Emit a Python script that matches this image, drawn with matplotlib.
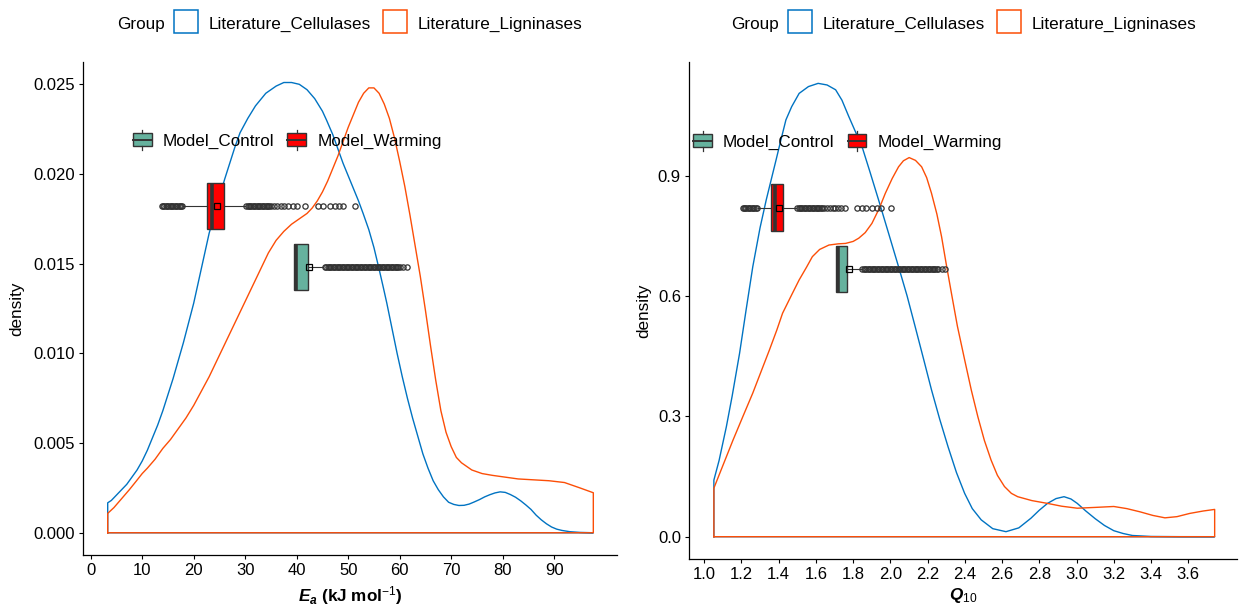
import numpy as np
import matplotlib
matplotlib.use("Agg")
import matplotlib.pyplot as plt
from matplotlib.patches import Rectangle
from matplotlib.lines import Line2D
from matplotlib.legend_handler import HandlerBase

plt.rcParams['font.family'] = ['Liberation Sans', 'DejaVu Sans']
plt.rcParams['mathtext.fontset'] = 'custom'
plt.rcParams['mathtext.rm'] = 'Liberation Sans'
plt.rcParams['mathtext.it'] = 'Liberation Sans:italic'
plt.rcParams['mathtext.bf'] = 'Liberation Sans:bold'
try:
    plt.rcParams['mathtext.bfit'] = 'Liberation Sans:bold:italic'
except KeyError:
    pass

# ---------------- data ----------------
group_labels = ["Literature_Cellulases", "Literature_Ligninases"]
model_labels = ["Model_Control", "Model_Warming"]

# Ea density curves
ea_cell_x = [3.3, 4, 5, 6, 7, 8, 9, 10, 11, 12, 13, 14, 15, 16, 17, 18, 19, 20, 21, 22, 23, 24, 25, 26,
             27, 28, 29, 30.5, 32, 34, 36, 37.5, 39, 40.5, 42, 43.5, 45, 45.8, 47, 48, 49, 50, 51, 52,
             52.9, 54, 55, 56, 56.8, 57.5, 58.5, 59.5, 60.5, 61.5, 62.5, 63.5, 64.5, 65.5, 66.5, 67.5,
             68.5, 69.5, 70.5, 71.5, 72.5, 73.5, 74.5, 75.5, 76.5, 77.5, 78.5, 79.5, 80.5, 81.5, 82.5,
             83.5, 84.5, 85.5, 86.5, 87.5, 88.5, 89.5, 90.5, 91.5, 93, 95, 97.6]
ea_cell_y = [0.00167, 0.0018, 0.0021, 0.0024, 0.0027, 0.0031, 0.0035, 0.0040, 0.0046, 0.0053, 0.0060,
             0.0068, 0.0077, 0.0086, 0.0096, 0.0106, 0.0117, 0.0128, 0.0141, 0.0154, 0.0167, 0.0177,
             0.0187, 0.0197, 0.0206, 0.0215, 0.0223, 0.0231, 0.0238, 0.0245, 0.0249, 0.0251, 0.0251,
             0.0250, 0.0247, 0.0242, 0.0235, 0.0230, 0.0222, 0.0214, 0.0206, 0.0199, 0.0192, 0.0185,
             0.0178, 0.0169, 0.0159, 0.0147, 0.0137, 0.0128, 0.0114, 0.0100, 0.0087, 0.0075, 0.0064,
             0.0054, 0.0044, 0.0036, 0.0029, 0.0024, 0.0020, 0.0017, 0.00158, 0.00152, 0.00153, 0.0016,
             0.00172, 0.00185, 0.0020, 0.00212, 0.00222, 0.00228, 0.00225, 0.00213, 0.00198, 0.00178,
             0.00155, 0.0013, 0.00098, 0.00072, 0.0005, 0.00032, 0.0002, 0.00013, 0.00006, 0.00002, 0.0]
ea_lig_x = [3.3, 4.5, 6, 7.5, 8.9, 10, 11, 12.5, 14, 15.5, 17, 18.5, 20, 21.5, 23, 24.5, 26, 27.5, 29,
            30.5, 31.5, 33, 34.5, 36, 37.5, 39, 40.5, 42, 43, 44, 45, 46, 47, 48, 49, 50, 51, 52, 53, 54,
            55, 56, 57, 58, 59, 60, 61, 62, 63, 64, 65, 66, 67, 68, 69, 70, 71, 72, 73, 74, 76, 78, 80,
            83, 86, 89, 92, 95, 97.6]
ea_lig_y = [0.00108, 0.0014, 0.0019, 0.0024, 0.0029, 0.0033, 0.0036, 0.0041, 0.0047, 0.0052, 0.0058,
            0.0064, 0.0071, 0.0079, 0.0087, 0.0096, 0.0105, 0.0114, 0.0123, 0.0132, 0.0138, 0.0147,
            0.0156, 0.0163, 0.0168, 0.0172, 0.0175, 0.0178, 0.0181, 0.0185, 0.0190, 0.0196, 0.0203,
            0.0210, 0.0218, 0.0226, 0.0233, 0.0240, 0.0245, 0.0248, 0.0248, 0.0245, 0.0239, 0.0231,
            0.0220, 0.0207, 0.0193, 0.0177, 0.0160, 0.0143, 0.0124, 0.0104, 0.0085, 0.0068, 0.0056,
            0.0048, 0.0042, 0.0039, 0.0037, 0.0035, 0.0033, 0.0032, 0.00312, 0.0030, 0.00295, 0.0029,
            0.0028, 0.0025, 0.00223]

# Q10 density curves
q10_cell_x = [1.052, 1.08, 1.119, 1.15, 1.19, 1.225, 1.261, 1.30, 1.333, 1.36, 1.386, 1.41, 1.439, 1.47,
              1.510, 1.56, 1.612, 1.66, 1.706, 1.74, 1.777, 1.81, 1.848, 1.89, 1.937, 1.99, 2.044, 2.09,
              2.133, 2.18, 2.221, 2.265, 2.310, 2.355, 2.399, 2.44, 2.488, 2.55, 2.621, 2.69, 2.755, 2.80,
              2.844, 2.89, 2.933, 2.97, 3.004, 3.05, 3.1, 3.15, 3.2, 3.25, 3.3, 3.4, 3.55, 3.742]
q10_cell_y = [0.141, 0.19, 0.274, 0.35, 0.457, 0.565, 0.673, 0.77, 0.839, 0.89, 0.939, 0.985, 1.039,
              1.072, 1.105, 1.122, 1.130, 1.126, 1.114, 1.088, 1.047, 1.012, 0.972, 0.91, 0.839, 0.757,
              0.673, 0.600, 0.524, 0.44, 0.366, 0.293, 0.224, 0.16, 0.108, 0.07, 0.042, 0.020, 0.0125,
              0.022, 0.046, 0.066, 0.083, 0.095, 0.0997, 0.094, 0.083, 0.064, 0.045, 0.028, 0.015, 0.008,
              0.003, 0.0006, 0.0001, 0.0]
q10_lig_x = [1.052, 1.10, 1.155, 1.21, 1.261, 1.31, 1.350, 1.39, 1.421, 1.47, 1.510, 1.55, 1.581, 1.62,
             1.670, 1.72, 1.759, 1.80, 1.830, 1.865, 1.901, 1.94, 1.973, 2.01, 2.044, 2.07, 2.101, 2.135,
             2.168, 2.195, 2.221, 2.25, 2.275, 2.30, 2.328, 2.36, 2.399, 2.435, 2.470, 2.505, 2.541,
             2.575, 2.613, 2.65, 2.684, 2.76, 2.844, 2.92, 3.004, 3.1, 3.2, 3.27, 3.341, 3.41, 3.475,
             3.54, 3.608, 3.68, 3.742]
q10_lig_y = [0.121, 0.177, 0.241, 0.302, 0.358, 0.417, 0.465, 0.515, 0.557, 0.603, 0.640, 0.672, 0.698,
             0.716, 0.727, 0.730, 0.731, 0.736, 0.744, 0.758, 0.781, 0.818, 0.856, 0.893, 0.922, 0.937,
             0.945, 0.938, 0.922, 0.895, 0.856, 0.804, 0.748, 0.68, 0.607, 0.525, 0.441, 0.365, 0.299,
             0.24, 0.191, 0.153, 0.125, 0.108, 0.0997, 0.090, 0.083, 0.076, 0.071, 0.073, 0.0753, 0.070,
             0.062, 0.053, 0.047, 0.050, 0.058, 0.064, 0.068]

# Boxplots: whislo, q1, median, q3, whishi ; mean ; outliers
ea_ctrl_box = [39.5, 39.5, 39.8, 42.1, 45.2]
ea_ctrl_mean = 42.3
ea_ctrl_fliers = [45.5, 45.75, 46, 46.25, 46.5, 46.75, 47, 47.25, 47.5, 47.75, 48, 48.25, 48.5, 48.75,
                  49, 49.25, 49.5, 49.75, 50, 50.25, 50.5, 50.75, 51, 51.25, 51.5, 51.75, 52, 52.25,
                  52.5, 52.75, 53, 53.25, 53.5, 53.75, 54, 54.25, 54.5, 54.75, 55, 55.25, 55.5, 55.75,
                  56, 56.25, 56.5, 56.75, 57, 57.25, 57.5, 57.75, 58, 58.25, 58.5, 58.75, 59, 59.25,
                  59.5, 59.75, 60.1, 60.7, 61.5]
ea_warm_box = [18.0, 22.6, 23.5, 25.9, 30.0]
ea_warm_mean = 24.6
ea_warm_fliers = [13.8, 14.05, 14.3, 14.55, 14.8, 15.05, 15.3, 15.55, 15.8, 16.05, 16.3, 16.55, 16.8,
                  17.05, 17.3, 17.55, 17.75,
                  30.2, 30.45, 30.7, 30.95, 31.2, 31.45, 31.7, 31.95, 32.2, 32.45, 32.7, 32.95, 33.2,
                  33.45, 33.7, 33.95, 34.2, 34.45, 34.7, 34.95, 35.6, 36.2, 36.9, 37.6, 38.4, 39.2,
                  40.0, 41.6, 44.2, 45.2, 46.5, 47.5, 48.3, 49.0, 51.3]

q10_ctrl_box = [1.709, 1.709, 1.718, 1.768, 1.848]
q10_ctrl_mean = 1.777
q10_ctrl_fliers = [1.850, 1.857, 1.864, 1.871, 1.878, 1.885, 1.892, 1.899, 1.906, 1.913, 1.920, 1.927,
                   1.934, 1.941, 1.948, 1.955, 1.962, 1.969, 1.976, 1.983, 1.990, 1.997, 2.004, 2.011,
                   2.018, 2.025, 2.032, 2.039, 2.046, 2.053, 2.060, 2.067, 2.074, 2.081, 2.088, 2.095,
                   2.102, 2.109, 2.116, 2.123, 2.130, 2.137, 2.144, 2.151, 2.158, 2.165, 2.172, 2.179,
                   2.186, 2.193, 2.200, 2.207, 2.214, 2.221, 2.228, 2.235, 2.242, 2.249, 2.256,
                   2.275, 2.293]
q10_warm_box = [1.29, 1.359, 1.381, 1.421, 1.493]
q10_warm_mean = 1.400
q10_warm_fliers = [1.206, 1.213, 1.220, 1.227, 1.234, 1.241, 1.248, 1.255, 1.262, 1.269, 1.276, 1.283,
                   1.500, 1.507, 1.514, 1.521, 1.528, 1.535, 1.542, 1.549, 1.556, 1.563, 1.570, 1.577,
                   1.584, 1.591, 1.598, 1.605, 1.612, 1.619, 1.626, 1.633,
                   1.645, 1.66, 1.675, 1.69, 1.705, 1.72, 1.733, 1.754,
                   1.82, 1.85, 1.87, 1.90, 1.93, 1.95, 2.003]

ea_ticks_x = [0, 10, 20, 30, 40, 50, 60, 70, 80, 90]
ea_ticks_y = [0.000, 0.005, 0.010, 0.015, 0.020, 0.025]
q10_ticks_x = [1.0, 1.2, 1.4, 1.6, 1.8, 2.0, 2.2, 2.4, 2.6, 2.8, 3.0, 3.2, 3.4, 3.6]
q10_ticks_y = [0.0, 0.3, 0.6, 0.9]

# ---------------- style ----------------
C_BLUE = '#0073C2'
C_ORANGE = '#FC4E07'
C_CTRL = '#66B29E'
C_WARM = '#FF0000'
C_DARK = '#333333'
FS = 12.3

W, H = 1239, 608
fig = plt.figure(figsize=(W / 100, H / 100), dpi=100)


def px_ax(l, r, t, b):
    return [l / W, 1 - b / H, (r - l) / W, (b - t) / H]


ax1 = fig.add_axes(px_ax(83.3, 617, 61.7, 555))
ax2 = fig.add_axes(px_ax(689.3, 1237, 61.7, 559))


class BoxKey(HandlerBase):
    def create_artists(self, legend, orig_handle, xdescent, ydescent, width, height, fontsize, trans):
        fc = orig_handle.get_facecolor()
        x0, y0 = -xdescent, -ydescent
        stub = 0.3 * height
        rect = Rectangle((x0, y0), width, height, facecolor=fc, edgecolor=C_DARK, lw=1.0, transform=trans)
        med = Line2D([x0, x0 + width], [y0 + height / 2] * 2, color=C_DARK, lw=1.4, transform=trans)
        w1 = Line2D([x0 + width / 2] * 2, [y0 + height, y0 + height + stub], color=C_DARK, lw=0.9, transform=trans)
        w2 = Line2D([x0 + width / 2] * 2, [y0 - stub, y0], color=C_DARK, lw=0.9, transform=trans)
        return [rect, med, w1, w2]


def density(ax, xs, ys, color):
    px = [xs[0]] + list(xs) + [xs[-1], xs[0]]
    py = [0] + list(ys) + [0, 0]
    ax.plot(px, py, color=color, lw=1.0, solid_joinstyle='round', zorder=2)


def box(ax, vals, mean, fliers, pos, height, fc):
    stats = [dict(whislo=vals[0], q1=vals[1], med=vals[2], q3=vals[3], whishi=vals[4],
                  mean=mean, fliers=fliers)]
    kw = dict(positions=[pos], widths=[height], patch_artist=True, showmeans=True, showcaps=False,
              manage_ticks=False, zorder=3,
              boxprops=dict(facecolor=fc, edgecolor=C_DARK, linewidth=1.0),
              medianprops=dict(color=C_DARK, linewidth=2.6, solid_capstyle='butt'),
              whiskerprops=dict(color=C_DARK, linewidth=0.8),
              flierprops=dict(marker='o', markerfacecolor='none', markeredgecolor=C_DARK,
                              markersize=3.8, markeredgewidth=0.9),
              meanprops=dict(marker='s', markerfacecolor='none', markeredgecolor='black',
                             markersize=4.5, markeredgewidth=0.9))
    try:
        ax.bxp(stats, orientation='horizontal', **kw)
    except TypeError:
        ax.bxp(stats, vert=False, **kw)


def style_axes(ax):
    for s in ['top', 'right']:
        ax.spines[s].set_visible(False)
    for s in ['left', 'bottom']:
        ax.spines[s].set_linewidth(0.9)
        ax.spines[s].set_color('black')
    ax.tick_params(direction='out', length=3, width=0.8, pad=3, labelsize=12, colors='black')


# ---- panel 1: Ea ----
density(ax1, ea_cell_x, ea_cell_y, C_BLUE)
density(ax1, ea_lig_x, ea_lig_y, C_ORANGE)
box(ax1, ea_warm_box, ea_warm_mean, ea_warm_fliers, 0.01822, 0.00256, C_WARM)
box(ax1, ea_ctrl_box, ea_ctrl_mean, ea_ctrl_fliers, 0.01481, 0.00256, C_CTRL)
ax1.set_xlim(-1.44, 102.2)
ax1.set_ylim(-0.00124, 0.02626)
ax1.set_xticks(ea_ticks_x)
ax1.set_yticks(ea_ticks_y)
ax1.set_yticklabels([f'{v:.3f}' for v in ea_ticks_y])
style_axes(ax1)
ax1.set_ylabel('density', fontsize=FS)
ax1.yaxis.set_label_coords(-0.111, 0.5)
ax1.set_xlabel(r'$\mathbfit{E}_{\mathbfit{a}}$' + r' (kJ mol$^{-1}$)', fontsize=FS, fontweight='bold')
ax1.xaxis.label.set_va('center')
ax1.xaxis.set_label_coords(0.5, -0.083)

# ---- panel 2: Q10 ----
density(ax2, q10_cell_x, q10_cell_y, C_BLUE)
density(ax2, q10_lig_x, q10_lig_y, C_ORANGE)
box(ax2, q10_warm_box, q10_warm_mean, q10_warm_fliers, 0.820, 0.1164, C_WARM)
box(ax2, q10_ctrl_box, q10_ctrl_mean, q10_ctrl_fliers, 0.667, 0.1164, C_CTRL)
ax2.set_xlim(0.92, 3.862)
ax2.set_ylim(-0.0556, 1.184)
ax2.set_xticks(q10_ticks_x)
ax2.set_xticklabels([f'{v:.1f}' for v in q10_ticks_x])
ax2.set_yticks(q10_ticks_y)
ax2.set_yticklabels([f'{v:.1f}' for v in q10_ticks_y])
style_axes(ax2)
ax2.set_ylabel('density', fontsize=FS)
ax2.yaxis.set_label_coords(-0.070, 0.5)
ax2.set_xlabel(r'$\mathbfit{Q}_{10}$', fontsize=FS)
ax2.xaxis.label.set_va('center')
ax2.xaxis.set_label_coords(0.5, -0.074)

# ---- inner boxplot legends ----
for ax, bx, by in [(ax1, 0.0931, 0.839), (ax2, 0.0068, 0.8385)]:
    hs = [Rectangle((0, 0), 1, 1, facecolor=C_CTRL), Rectangle((0, 0), 1, 1, facecolor=C_WARM)]
    ax.legend(hs, model_labels, handler_map={h: BoxKey() for h in hs}, loc='center left',
              bbox_to_anchor=(bx, by), ncol=2, frameon=False, borderpad=0, borderaxespad=0,
              handlelength=1.11, handleheight=0.76, handletextpad=0.64, columnspacing=0.76,
              fontsize=FS)

# ---- top "Group" legends ----
for off in [0, 614]:
    fig.text((116.7 + off) / W, 1 - 29.3 / H, 'Group', fontsize=FS, va='baseline', ha='left')
    for kx, tx, col, lab in [(174.3, 208.3, C_BLUE, group_labels[0]),
                             (383.3, 417.3, C_ORANGE, group_labels[1])]:
        fig.add_artist(Rectangle(((kx + off) / W, 1 - 33.3 / H), 24.0 / W, 23.3 / H,
                                 transform=fig.transFigure, facecolor='white', edgecolor=col, lw=1.1))
        fig.text((tx + off) / W, 1 - 29.3 / H, lab, fontsize=FS, va='baseline', ha='left')

fig.savefig('out.png', dpi=100)
